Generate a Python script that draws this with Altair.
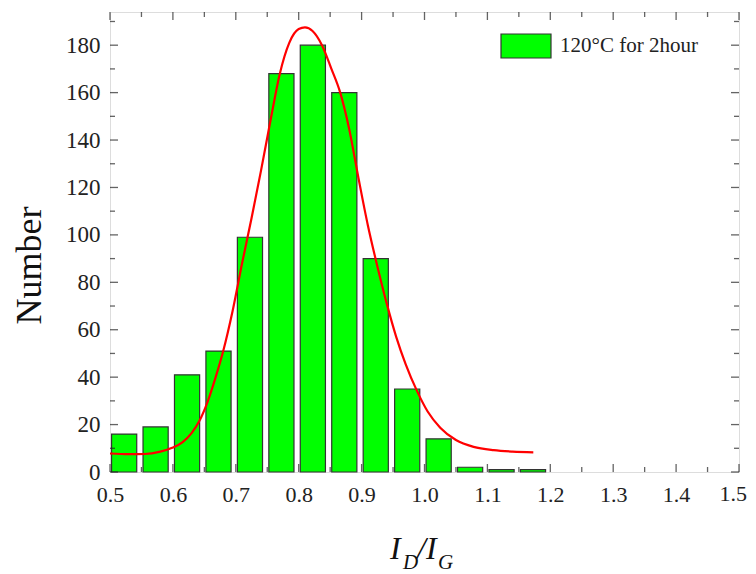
import altair as alt
import pandas as pd

# ---- data ----
bin_centers = [0.5225, 0.5725, 0.6225, 0.6725, 0.7225, 0.7725, 0.8225, 0.8725,
               0.9225, 0.9725, 1.0225, 1.0725, 1.1225, 1.1725]
counts = [16, 19, 41, 51, 99, 168, 180, 160, 90, 35, 14, 2, 1, 1]
bar_width = 0.04

fit_x = [0.500, 0.530, 0.555, 0.580, 0.600, 0.615, 0.630, 0.642, 0.655, 0.668,
         0.680, 0.695, 0.710, 0.725, 0.740, 0.755, 0.770, 0.785, 0.800, 0.810,
         0.822, 0.837, 0.852, 0.866, 0.880, 0.895, 0.910, 0.923, 0.940, 0.955,
         0.970, 0.988, 1.005, 1.025, 1.050, 1.078, 1.110, 1.140, 1.173]
fit_y = [7.8, 7.5, 7.6, 8.6, 10.3, 12.5, 16.5, 21.5, 29.5, 40.0,
         51.0, 68.0, 88.0, 107.0, 127.0, 148.0, 168.0, 181.0, 186.8, 187.5,
         186.0, 180.0, 170.0, 160.0, 145.0, 124.0, 104.0, 89.0, 71.0, 57.0,
         45.5, 34.2, 25.5, 18.7, 13.5, 10.6, 9.2, 8.6, 8.3]

series_name = "120°C for 2hour"
x_major = [0.5, 0.6, 0.7, 0.8, 0.9, 1.0, 1.1, 1.2, 1.3, 1.4, 1.5]
x_minor = [0.55, 0.65, 0.75, 0.85, 0.95, 1.05, 1.15, 1.25, 1.35, 1.45]
y_major = [0, 20, 40, 60, 80, 100, 120, 140, 160, 180]
y_minor = [10, 30, 50, 70, 90, 110, 130, 150, 170, 190]

W, H = 629, 460
X_DOMAIN = [0.5, 1.5]
Y_DOMAIN = [0, 194]
FONT = "Liberation Serif"
INK = "#222222"

bars = pd.DataFrame({
    "x0": [c - bar_width / 2 for c in bin_centers],
    "x1": [c + bar_width / 2 for c in bin_centers],
    "count": counts,
    "series": [series_name] * len(counts),
})
fit = pd.DataFrame({"x": fit_x, "y": fit_y})

xs = alt.Scale(domain=X_DOMAIN, nice=False, zero=False)
ys = alt.Scale(domain=Y_DOMAIN, nice=False)

bar_layer = alt.Chart(bars).mark_rect(stroke="#333333", strokeWidth=1.2).encode(
    x=alt.X("x0:Q", scale=xs,
            axis=alt.Axis(values=x_major[:-1], format=".1f", title=None, tickSize=0,
                          labelPadding=12, domain=False, grid=False,
                          labelFont=FONT, labelFontSize=22, labelColor=INK,
                          labelFlush=False)),
    x2="x1:Q",
    y=alt.Y("count:Q", scale=ys,
            axis=alt.Axis(values=y_major, title="Number", tickSize=0,
                          labelPadding=10, domain=False, grid=False,
                          labelFont=FONT, labelFontSize=23, labelColor=INK,
                          titleFont=FONT, titleFontSize=36, titleFontWeight="normal",
                          titleColor="#111111", titlePadding=17, titleY=253)),
    y2=alt.datum(0),
    color=alt.Color("series:N",
                    scale=alt.Scale(domain=[series_name], range=["#00ff00"]),
                    legend=alt.Legend(title=None, orient="none", legendX=390, legendY=8,
                                      symbolType="M-1,-0.48H1V0.48H-1Z", symbolSize=2500,
                                      symbolStrokeColor="#333333", symbolStrokeWidth=1.2,
                                      labelFont=FONT, labelFontSize=21, labelColor=INK,
                                      labelOffset=8)),
)

# last x tick label drawn as text so it stays inside the page
last_label = alt.Chart(pd.DataFrame({"v": x_major[-1:]})).mark_text(
    font=FONT, fontSize=22, color=INK, align="right", baseline="top", dx=8, dy=12
).encode(x=alt.X("v:Q", scale=xs), y=alt.value(H), text=alt.Text("v:Q", format=".1f"))

fit_layer = alt.Chart(fit).mark_line(color="#ff0000", strokeWidth=2.2,
                                     interpolate="monotone").encode(
    x=alt.X("x:Q", scale=xs), y=alt.Y("y:Q", scale=ys)
)

def ticks_x(vals, size, ypix):
    df = pd.DataFrame({"v": vals})
    return alt.Chart(df).mark_tick(orient="vertical", size=size, thickness=1.3, color=INK).encode(
        x=alt.X("v:Q", scale=xs), y=alt.value(ypix))

def ticks_y(vals, size, xpix):
    df = pd.DataFrame({"v": vals})
    return alt.Chart(df).mark_tick(orient="horizontal", size=size, thickness=1.3, color=INK).encode(
        y=alt.Y("v:Q", scale=ys), x=alt.value(xpix))

tick_layers = [
    ticks_x(x_major, 8, H - 4), ticks_x(x_minor, 5, H - 2.5),
    ticks_x(x_major, 8, 4), ticks_x(x_minor, 5, 2.5),
    ticks_y(y_major, 8, 4), ticks_y(y_minor, 5, 2.5),
    ticks_y(y_major, 8, W - 4), ticks_y(y_minor, 5, W - 2.5),
]

# x-axis title I_D/I_G built from text pieces
title_parts = pd.DataFrame({
    "t": ["I", "D", "/", "I", "G"],
    "px": [280, 293, 307, 316, 328],
    "py": [547, 557, 547, 547, 557],
    "fs": [32, 21, 32, 32, 21],
})
def title_piece(i):
    r = title_parts.iloc[i]
    return alt.Chart(pd.DataFrame({"t": [r["t"]]})).mark_text(
        font=FONT, fontStyle="italic", fontSize=int(r["fs"]), align="left",
        baseline="alphabetic", color="#111111").encode(
        text="t:N", x=alt.value(float(r["px"])), y=alt.value(float(r["py"])))

title_layers = [title_piece(i) for i in range(len(title_parts))]

chart = alt.layer(bar_layer, fit_layer, last_label, *tick_layers, *title_layers).properties(
    width=W, height=H,
    autosize=alt.AutoSizeParams(type="none"),
    padding={"left": 102, "top": 4, "right": 9, "bottom": 102},
).configure_view(stroke="#111111", strokeWidth=1.5).configure(background="white")

chart.save("out.html", embed_options={"renderer": "svg", "actions": False})
